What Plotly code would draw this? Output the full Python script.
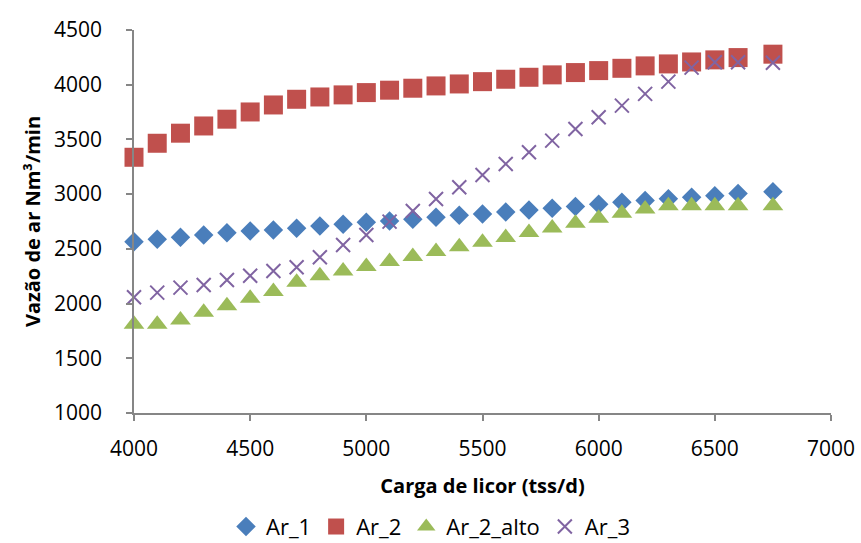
import plotly.graph_objects as go

# Carga de licor (tss/d)
carga = [4000, 4100, 4200, 4300, 4400, 4500, 4600, 4700, 4800, 4900,
         5000, 5100, 5200, 5300, 5400, 5500, 5600, 5700, 5800, 5900,
         6000, 6100, 6200, 6300, 6400, 6500, 6600, 6750]

# Vazão de ar (Nm³/min) por caso
ar_1 = [2566, 2588, 2606, 2627, 2648, 2664, 2673, 2688, 2709, 2725,
        2743, 2755, 2771, 2789, 2807, 2819, 2837, 2856, 2871, 2886,
        2908, 2926, 2941, 2959, 2972, 2986, 3005, 3023]
ar_2 = [3337, 3465, 3557, 3623, 3685, 3751, 3815, 3867, 3888, 3907,
        3928, 3950, 3968, 3989, 4007, 4028, 4050, 4068, 4090, 4111,
        4129, 4150, 4172, 4190, 4208, 4227, 4248, 4279]
ar_2_alto = [1810, 1810, 1850, 1920, 1980, 2048, 2110, 2195, 2255, 2298,
             2338, 2384, 2430, 2475, 2520, 2560, 2603, 2650, 2690, 2735,
             2780, 2825, 2865, 2893, 2893, 2893, 2893, 2893]
ar_3 = [2058, 2100, 2146, 2170, 2216, 2255, 2298, 2332, 2423, 2536,
        2627, 2749, 2846, 2956, 3063, 3175, 3276, 3383, 3489, 3596,
        3703, 3809, 3916, 4028, 4156, 4205, 4205, 4200]

series = [
    ("Ar_1", ar_1, "diamond", "#4A7EBB", 15, None),
    ("Ar_2", ar_2, "square", "#C0504D", 19, None),
    ("Ar_2_alto", ar_2_alto, "triangle-up", "#9BBB59", 18, None),
    ("Ar_3", ar_3, "x-thin", "#8064A2", 14, 2),
]

font_family = "Open Sans, Liberation Sans, sans-serif"
tick_font = dict(family=font_family, size=21, color="#000")
title_font = dict(family=font_family, size=20, color="#000")

fig = go.Figure()
for name, vals, sym, color, size, lw in series:
    marker = dict(symbol=sym, color=color, size=size)
    if lw:
        marker["line"] = dict(color=color, width=lw)
    else:
        marker["line"] = dict(width=0)
    fig.add_trace(go.Scatter(x=carga, y=vals, mode="markers", name=name,
                             marker=marker, cliponaxis=False))

axis_common = dict(showgrid=False, zeroline=False, showline=True,
                   linecolor="#868686", linewidth=1.5, ticks="outside",
                   ticklen=6, tickcolor="#868686", tickwidth=1.5,
                   tickfont=tick_font, automargin=False)

fig.update_xaxes(range=[4000, 7000], dtick=500, tick0=4000,
                 ticklabelstandoff=10,
                 title=dict(text="<b>Carga de licor (tss/d)</b>",
                            font=title_font, standoff=18),
                 **axis_common)
fig.update_yaxes(range=[1000, 4500], dtick=500,
                 ticklabelstandoff=20,
                 title=dict(text="<b>Vazão de ar Nm³/min</b>",
                            font=title_font, standoff=8),
                 **axis_common)

fig.update_layout(
    width=861, height=543,
    margin=dict(l=134, r=30, t=30, b=130),
    plot_bgcolor="white", paper_bgcolor="white",
    legend=dict(orientation="h", xref="container", yref="container",
                x=0.5, xanchor="center", y=0.03, yanchor="middle",
                font=dict(family=font_family, size=22, color="#000"),
                itemwidth=30, tracegroupgap=0),
)

fig.write_html("out.html")
